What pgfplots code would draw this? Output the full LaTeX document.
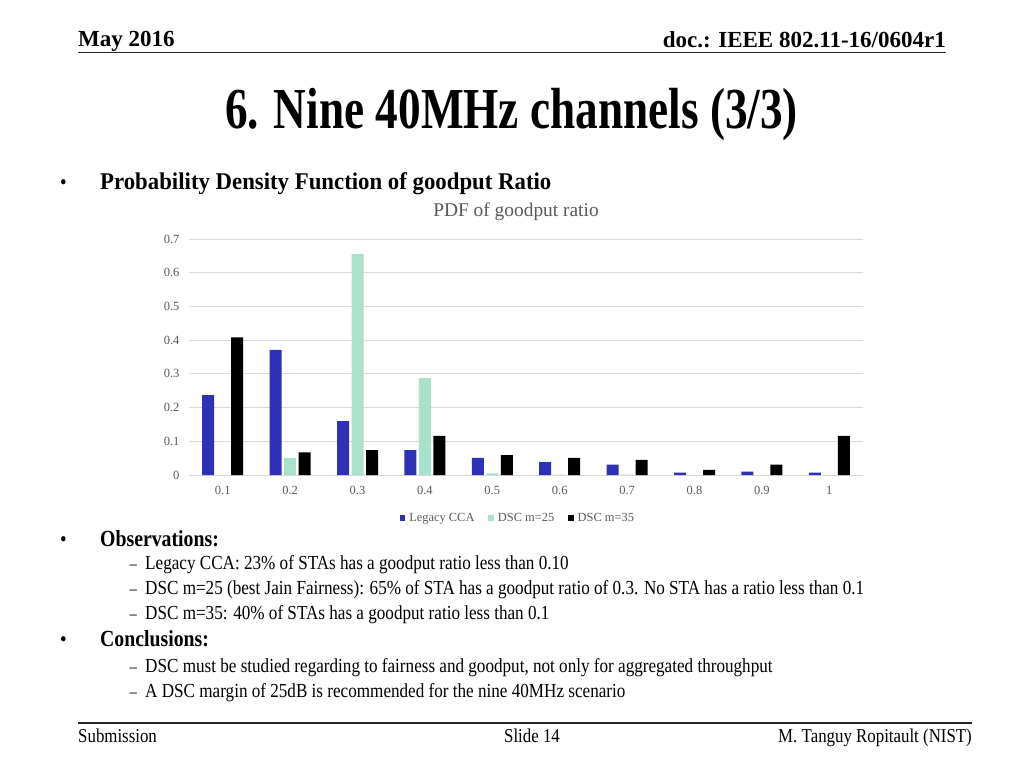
\documentclass[border=0pt]{standalone}
\usepackage{fontspec}
\setmainfont{Liberation Serif}[FakeStretch=0.86]
\newfontfamily\titlefont{Liberation Serif}[FakeStretch=0.78]
\newfontfamily\plainfont{Liberation Serif}
\newfontfamily\subfont{Liberation Serif}[FakeStretch=0.95]
\usepackage{pgfplots}
\pgfplotsset{compat=1.18}
\definecolor{legacy}{HTML}{2E31B8}
\definecolor{dsca}{HTML}{A8E2CB}
\definecolor{txtgray}{HTML}{595959}
\definecolor{gridgray}{HTML}{D9D9D9}
\begin{document}
\begin{tikzpicture}
\begin{scope}[x=1pt,y=-1pt]
\fill[white] (0,0) rectangle (1024,768);
% header
\node[anchor=base west,inner sep=0] at (78,46) {\fontsize{23}{26}\selectfont\plainfont\bfseries May 2016};
\node[anchor=base east,inner sep=0] at (946,48) {\fontsize{23}{26}\selectfont\plainfont\bfseries doc.: IEEE 802.11-16/0604r1};
\draw[line width=1.7pt,black!85] (78,52.5) -- (946,52.5);
% title
\node[anchor=base,inner sep=0] at (511.5,128) {\fontsize{58}{64}\selectfont\titlefont\bfseries 6. Nine 40MHz channels (3/3)};
% bullet 1
\node[anchor=base west,inner sep=0] at (60,189) {\fontsize{22}{24}\selectfont •};
\node[anchor=base west,inner sep=0] at (100,189) {\fontsize{24}{27}\selectfont\subfont\bfseries Probability Density Function of goodput Ratio};
% chart title
\node[anchor=base,inner sep=0,text=txtgray] at (516,216) {\fontsize{19.4}{22}\selectfont\plainfont PDF of goodput ratio};
% observations
\node[anchor=base west,inner sep=0] at (60,546) {\fontsize{22}{24}\selectfont •};
\node[anchor=base west,inner sep=0] at (100,546) {\fontsize{23}{26}\selectfont\bfseries Observations:};
\foreach \yy/\tt in {569/{Legacy CCA: 23\% of STAs has a goodput ratio less than 0.10},
                      594/{DSC m=25 (best Jain Fairness): 65\% of STA has a goodput ratio of 0.3. No STA has a ratio less than 0.1},
                      619/{DSC m=35: 40\% of STAs has a goodput ratio less than 0.1}}{
  \node[anchor=base west,inner sep=0] at (129.5,\yy) {\fontsize{17}{20}\selectfont –};
  \node[anchor=base west,inner sep=0] at (145,\yy) {\fontsize{19.9}{22}\selectfont \tt};
}
\node[anchor=base west,inner sep=0] at (60,646) {\fontsize{22}{24}\selectfont •};
\node[anchor=base west,inner sep=0] at (100,646) {\fontsize{23}{26}\selectfont\bfseries Conclusions:};
\foreach \yy/\tt in {672/{DSC must be studied regarding to fairness and goodput, not only for aggregated throughput},
                      697/{A DSC margin of 25dB is recommended for the nine 40MHz scenario}}{
  \node[anchor=base west,inner sep=0] at (129.5,\yy) {\fontsize{17}{20}\selectfont –};
  \node[anchor=base west,inner sep=0] at (145,\yy) {\fontsize{19.9}{22}\selectfont \tt};
}
% footer
\draw[line width=1.7pt,black!85] (78,723) -- (972,723);
\node[anchor=base west,inner sep=0] at (78,742) {\fontsize{19.6}{22}\selectfont Submission};
\node[anchor=base,inner sep=0] at (532,742) {\fontsize{19.6}{22}\selectfont Slide 14};
\node[anchor=base east,inner sep=0] at (972,742) {\fontsize{19.6}{22}\selectfont M. Tanguy Ropitault (NIST)};
\end{scope}
\begin{axis}[
  at={(189pt,-475pt)}, anchor=south west,
  scale only axis, width=674pt, height=236pt,
  ybar=2.5pt, bar width=12pt,
  xmin=-0.5, xmax=9.5, ymin=0, ymax=0.7,
  xtick={0,...,9}, xticklabels={0.1,0.2,0.3,0.4,0.5,0.6,0.7,0.8,0.9,1},
  ytick={0,0.1,0.2,0.3,0.4,0.5,0.6,0.7},
  yticklabels={0,0.1,0.2,0.3,0.4,0.5,0.6,0.7},
  major tick length=0pt,
  axis lines*=left,
  y axis line style={draw=none},
  x axis line style={draw=gridgray,line width=0.8pt,-},
  ymajorgrids, grid style={draw=gridgray,line width=0.8pt},
  ticklabel style={font=\fontsize{12.5}{14}\selectfont\plainfont,text=txtgray},
  /pgf/number format/assume math mode=true,
  yticklabel style={xshift=-6pt},
  xticklabel style={yshift=-7.5pt},
  legend style={at={(0.488,-0.182)},anchor=center,draw=none,fill=none,
    font=\fontsize{12.4}{14}\selectfont\plainfont,text=txtgray,legend columns=3,
    /tikz/every even column/.append style={column sep=12pt},
    /tikz/every odd column/.append style={column sep=2pt}},
  legend image code/.code={\fill[#1,draw=none] (0pt,-2.75pt) rectangle (5.5pt,2.75pt);},
  legend cell align=left,
]
\addplot[fill=legacy,draw=none] coordinates {(0,0.237)(1,0.371)(2,0.160)(3,0.074)(4,0.051)(5,0.038)(6,0.031)(7,0.007)(8,0.010)(9,0.007)};
\addplot[fill=dsca,draw=none] coordinates {(0,0)(1,0.051)(2,0.655)(3,0.288)(4,0.005)(5,0.001)(6,0.001)(7,0)(8,0)(9,0)};
\addplot[fill=black,draw=none] coordinates {(0,0.408)(1,0.067)(2,0.074)(3,0.116)(4,0.059)(5,0.051)(6,0.045)(7,0.015)(8,0.031)(9,0.116)};
\legend{Legacy CCA,DSC m=25,DSC m=35}
\end{axis}
\end{tikzpicture}
\end{document}
